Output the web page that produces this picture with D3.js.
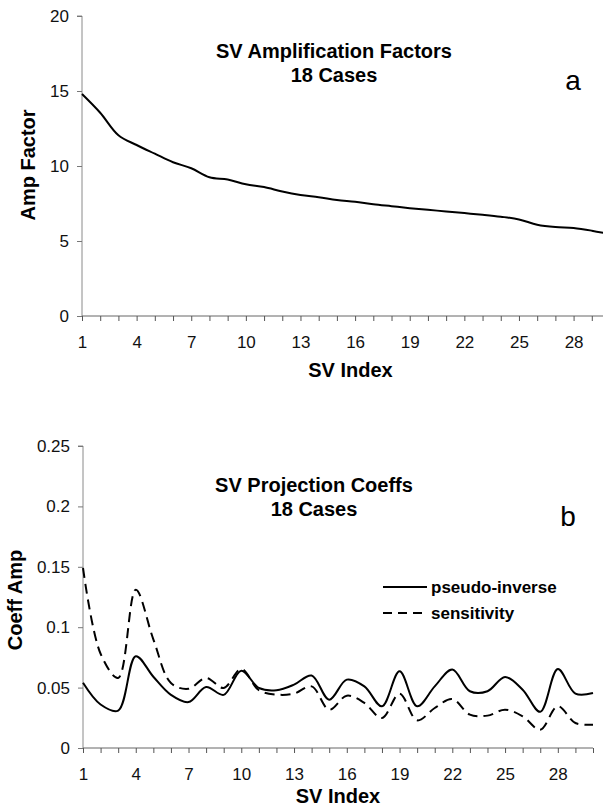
<!DOCTYPE html>
<html>
<head>
<meta charset="utf-8">
<script src="https://cdn.jsdelivr.net/npm/d3@7"></script>
<style>
  html, body { margin: 0; padding: 0; background: #fff; overflow: hidden; }
  svg { display: block; font-family: "Liberation Sans", Arial, sans-serif; }
</style>
</head>
<body>
<svg id="chart" width="603" height="809"></svg>
<script>
// ---------- data ----------
const svIndex = d3.range(1, 31);
const ampFactor = [14.8, 13.55, 12.05, 11.4, 10.82, 10.25, 9.85, 9.25, 9.1, 8.78,
                   8.6, 8.3, 8.07, 7.92, 7.74, 7.61, 7.45, 7.32, 7.19, 7.08,
                   6.97, 6.86, 6.75, 6.62, 6.44, 6.09, 5.93, 5.87, 5.69, 5.45];
const pseudoInverse = [0.054, 0.036, 0.031, 0.076, 0.059, 0.044, 0.038, 0.0505, 0.044, 0.064,
                       0.0497, 0.0478, 0.0524, 0.06, 0.040, 0.0566, 0.051, 0.0345, 0.0635, 0.0345,
                       0.051, 0.065, 0.047, 0.047, 0.0588, 0.0483, 0.030, 0.0654, 0.045, 0.0455];
const sensitivity = [0.149, 0.078, 0.058, 0.131, 0.090, 0.0538, 0.049, 0.058, 0.0497, 0.0654,
                     0.0478, 0.0442, 0.045, 0.051, 0.0317, 0.0433, 0.0373, 0.0248, 0.045, 0.0229,
                     0.0331, 0.0406, 0.0276, 0.0268, 0.0317, 0.0262, 0.0152, 0.0345, 0.0207, 0.0193];
const xTickLabels = [1, 4, 7, 10, 13, 16, 19, 22, 25, 28];
const ampTicks = [0, 5, 10, 15, 20];
const coeffTicks = [0, 0.05, 0.1, 0.15, 0.2, 0.25];
const seriesNames = ["pseudo-inverse", "sensitivity"];

const svg = d3.select("#chart");
const FONT = "Liberation Sans, Arial, sans-serif";

function drawPanel(opt) {
  const x = d3.scaleLinear().domain([1, 30]).range(opt.xRange);
  const y = d3.scaleLinear().domain(opt.yDomain).range(opt.yRange);
  const g = svg.append("g");

  // y axis
  const yAxis = d3.axisLeft(y).tickValues(opt.yTicks).tickSize(5).tickPadding(8)
    .tickFormat(d => d3.format("~g")(d));
  const ya = g.append("g").attr("transform", `translate(${opt.xRange[0]},0)`).call(yAxis);
  ya.select(".domain").attr("stroke", "#8a8a8a").attr("d", `M-5,${opt.yRange[1]}H0V${opt.yRange[0]}`);
  ya.selectAll(".tick line").attr("stroke", "#777");
  ya.selectAll(".tick text").attr("font-size", 17).attr("font-family", FONT).attr("fill", "#111");

  // x axis
  const xAxis = d3.axisBottom(x).tickValues(svIndex).tickSize(5).tickPadding(15)
    .tickFormat(d => xTickLabels.includes(d) ? d : "");
  const xa = g.append("g").attr("transform", `translate(0,${opt.yRange[0]})`).call(xAxis);
  xa.select(".domain").attr("stroke", "#666").attr("d", `M${opt.xRange[0]},0H${x(30)}`);
  xa.selectAll(".tick line").attr("stroke", "#555");
  xa.selectAll(".tick text").attr("font-size", 17).attr("font-family", FONT).attr("fill", "#111");

  // lines
  opt.series.forEach(s => {
    const line = d3.line().x((d, i) => x(svIndex[i])).y(d => y(d)).curve(d3.curveCatmullRom.alpha(0.5));
    g.append("path").datum(s.values).attr("d", line)
      .attr("fill", "none").attr("stroke", "#000").attr("stroke-width", 2)
      .attr("stroke-dasharray", s.dash || null);
  });

  // titles
  opt.titles.forEach(t => {
    g.append("text").attr("x", t.x).attr("y", t.y).attr("text-anchor", "middle")
      .attr("font-size", 20).attr("font-weight", "bold").attr("font-family", FONT).text(t.text);
  });
  g.append("text").attr("x", opt.letter.x).attr("y", opt.letter.y).attr("text-anchor", "middle")
    .attr("font-size", 28).attr("font-family", FONT).text(opt.letter.text);

  // axis labels
  g.append("text").attr("transform", `translate(${opt.yLabel.x},${opt.yLabel.y}) rotate(-90)`)
    .attr("text-anchor", "middle").attr("font-size", 20).attr("font-weight", "bold")
    .attr("font-family", FONT).text(opt.yLabel.text);
  g.append("text").attr("x", (opt.xRange[0] + Math.min(opt.xRange[1], 603)) / 2 + opt.xLabelShift)
    .attr("y", opt.xLabelY).attr("text-anchor", "middle").attr("font-size", 20)
    .attr("font-weight", "bold").attr("font-family", FONT).text("SV Index");
  return { x, y, g };
}

// Panel a
drawPanel({
  xRange: [82, 610], yRange: [316, 16], yDomain: [0, 20], yTicks: ampTicks,
  series: [{ values: ampFactor }],
  titles: [{ x: 334, y: 58, text: "SV Amplification Factors" }, { x: 334, y: 82, text: "18 Cases" }],
  letter: { x: 573, y: 90, text: "a" },
  yLabel: { x: 35, y: 165, text: "Amp Factor" },
  xLabelY: 377, xLabelShift: 8
});

// Panel b
drawPanel({
  xRange: [83, 593], yRange: [748, 446], yDomain: [0, 0.25], yTicks: coeffTicks,
  series: [{ values: pseudoInverse }, { values: sensitivity, dash: "10,6" }],
  titles: [{ x: 314, y: 492, text: "SV Projection Coeffs" }, { x: 314, y: 516, text: "18 Cases" }],
  letter: { x: 568, y: 526, text: "b" },
  yLabel: { x: 22, y: 600, text: "Coeff Amp" },
  xLabelY: 803, xLabelShift: 0
});

// legend
const legend = svg.append("g");
seriesNames.forEach((name, i) => {
  const ly = 587 + i * 26;
  legend.append("line").attr("x1", 383).attr("x2", 427).attr("y1", ly).attr("y2", ly)
    .attr("stroke", "#000").attr("stroke-width", 2)
    .attr("stroke-dasharray", i === 1 ? "9,6" : null);
  legend.append("text").attr("x", 431).attr("y", ly + 6).attr("font-size", 17)
    .attr("font-weight", "bold").attr("font-family", FONT).text(name);
});
</script>
</body>
</html>
